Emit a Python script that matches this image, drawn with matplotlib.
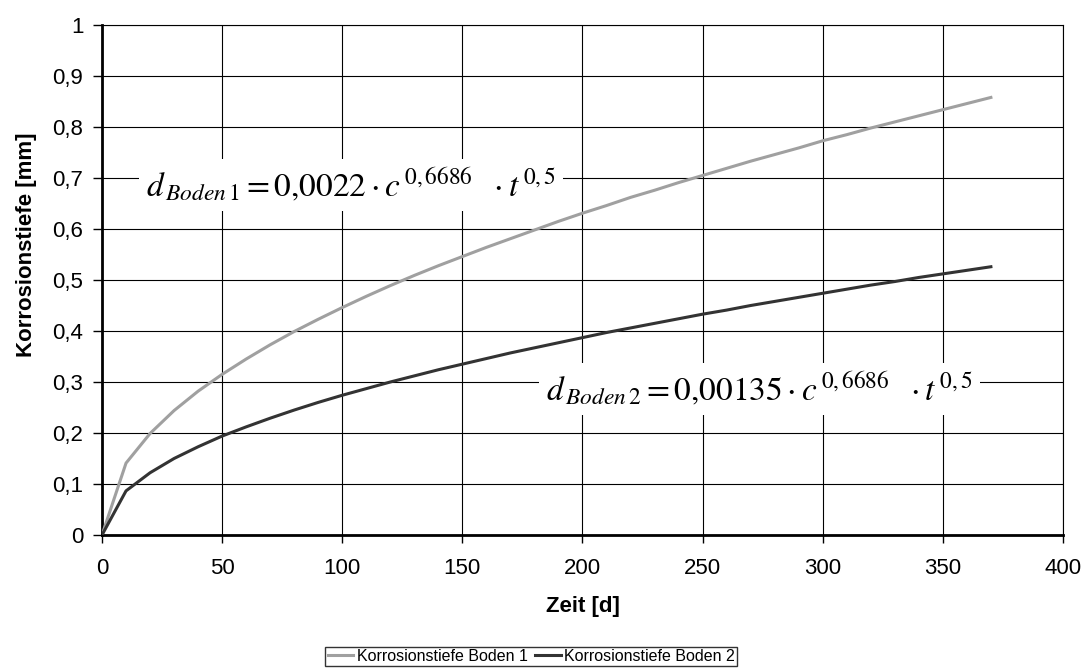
import matplotlib
matplotlib.use("Agg")
import matplotlib.pyplot as plt
from matplotlib.ticker import FuncFormatter

plt.rcParams['font.family'] = ['Liberation Sans', 'DejaVu Sans']
plt.rcParams['mathtext.fontset'] = 'stix'

# Data
zeit = [0, 10, 20, 30, 40, 50, 60, 70, 80, 90, 100, 110, 120, 130, 140, 150, 160, 170, 180,
        190, 200, 210, 220, 230, 240, 250, 260, 270, 280, 290, 300, 310, 320, 330, 340, 350, 360, 370]
boden1 = [0.0, 0.141, 0.199, 0.244, 0.282, 0.315, 0.345, 0.373, 0.399, 0.423, 0.446, 0.468, 0.489,
          0.509, 0.528, 0.546, 0.564, 0.581, 0.598, 0.615, 0.631, 0.646, 0.662, 0.676, 0.691, 0.705,
          0.719, 0.733, 0.746, 0.759, 0.773, 0.785, 0.798, 0.810, 0.822, 0.834, 0.846, 0.858]
boden2 = [0.0, 0.0865, 0.122, 0.150, 0.173, 0.194, 0.212, 0.229, 0.245, 0.260, 0.274, 0.287, 0.300,
          0.312, 0.324, 0.335, 0.346, 0.357, 0.367, 0.377, 0.387, 0.397, 0.406, 0.415, 0.424, 0.433,
          0.441, 0.450, 0.458, 0.466, 0.474, 0.482, 0.490, 0.497, 0.505, 0.512, 0.519, 0.526]
series_labels = ["Korrosionstiefe Boden 1", "Korrosionstiefe Boden 2"]
x_ticks = [0, 50, 100, 150, 200, 250, 300, 350, 400]
y_ticks = [0, 0.1, 0.2, 0.3, 0.4, 0.5, 0.6, 0.7, 0.8, 0.9, 1.0]
eq1 = r'$d_{\,Boden\,1} = 0{,}0022\cdot c^{\,0{,}\,6686}\ \ \cdot t^{\,0{,}\,5}$'
eq2 = r'$d_{\,Boden\,2} = 0{,}00135\cdot c^{\,0{,}\,6686}\ \ \cdot t^{\,0{,}\,5}$'

fig = plt.figure(figsize=(10.91, 6.71), dpi=100)
ax = fig.add_axes([0.0935, 0.2027, 0.8808, 0.76])

ax.plot(zeit, boden1, color='#a0a0a0', lw=2.2, label=series_labels[0], zorder=3)
ax.plot(zeit, boden2, color='#333333', lw=2.2, label=series_labels[1], zorder=3)

ax.set_xlim(0, 400)
ax.set_ylim(0, 1)
ax.set_xticks(x_ticks)
ax.set_yticks(y_ticks)
fmt = FuncFormatter(lambda v, p: ('%g' % round(v, 2)).replace('.', ','))
ax.xaxis.set_major_formatter(fmt)
ax.yaxis.set_major_formatter(fmt)
ax.tick_params(labelsize=16, width=1, color='black', direction='out')
ax.tick_params(axis='x', length=5.5, pad=11)
ax.tick_params(axis='y', length=6.5, pad=7)
ax.grid(True, color='black', lw=0.8, zorder=1)

for s in ['top', 'right']:
    ax.spines[s].set_linewidth(0.8)
for s in ['left', 'bottom']:
    ax.spines[s].set_linewidth(2.0)

ax.set_xlabel('Zeit [d]', fontsize=16, fontweight='bold', labelpad=12)
ax.set_ylabel('Korrosionstiefe [mm]', fontsize=16, fontweight='bold', labelpad=10)
ax.yaxis.set_label_coords(-0.068, 0.57)

ax.text(103.5, 0.686, eq1, fontsize=24, ha='center', va='center', zorder=4,
        bbox=dict(facecolor='white', edgecolor='none', pad=5))
ax.text(273.6, 0.286, eq2, fontsize=24, ha='center', va='center', zorder=4,
        bbox=dict(facecolor='white', edgecolor='none', pad=5))

leg = fig.legend(loc='center', bbox_to_anchor=(0.487, 0.0216), ncol=2, fontsize=11.5,
                 frameon=True, fancybox=False, edgecolor='black', handlelength=1.6,
                 handletextpad=0.2, columnspacing=0.5, borderpad=0.15, borderaxespad=0)
leg.get_frame().set_linewidth(1.0)

fig.savefig('out.png', dpi=100)
